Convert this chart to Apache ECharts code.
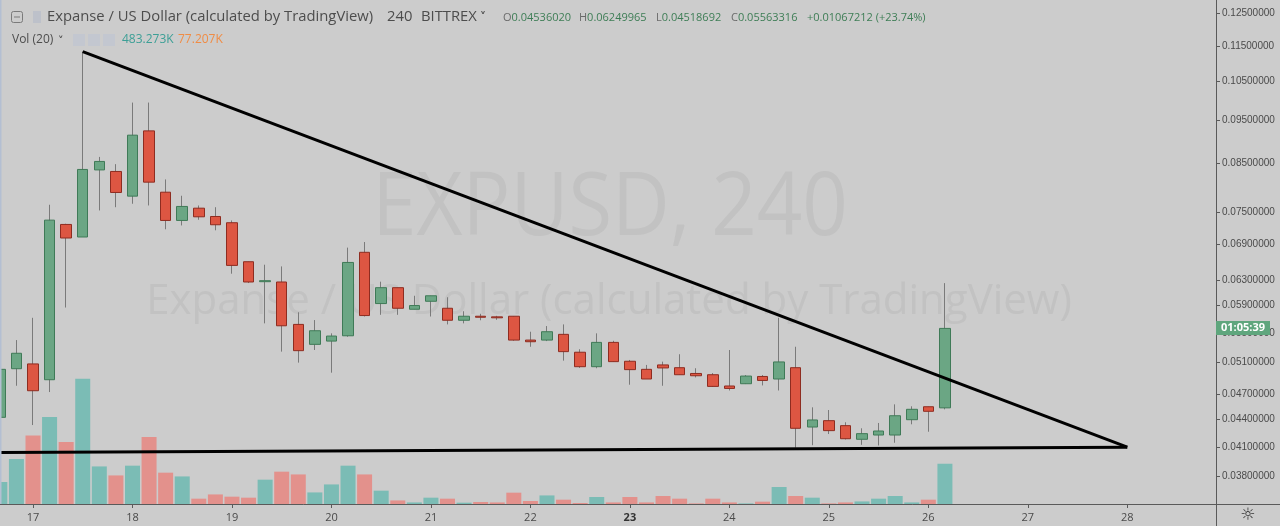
<!DOCTYPE html>
<html><head><meta charset="utf-8">
<script src="https://cdn.jsdelivr.net/npm/echarts@6/dist/echarts.min.js"></script>
<style>html,body{margin:0;padding:0;background:#cccccc;}#chart{width:1280px;height:526px;}</style>
</head><body><div id="chart"></div>
<script>
// ---- data (4h candles, EXP/USD Bittrex); first bar sits 2 slots before Day 17 00:00 ----
const firstSlot = -2;
const dayLabels = ['17','18','19','20','21','22','23','24','25','26','27','28'];
const dayTickSlots = [0,6,12,18,24,30,36,42,48,54,60,66];
const priceTicks = [0.125,0.115,0.105,0.095,0.085,0.075,0.069,0.063,0.059,0.055,0.051,0.047,0.044,0.041,0.038];

const openP = [0.04427,0.05016,0.05078,0.04876,0.07267,0.07036,0.0836,0.08327,0.07815,0.09242,
  0.07895,0.07342,0.07577,0.07417,0.07299,0.06603,0.06273,0.06268,0.05621,0.05340,
  0.05385,0.05459,0.06765,0.0593,0.06177,0.05844,0.05965,0.05859,0.05681,0.0574,
  0.05731,0.0574,0.05399,0.05399,0.05479,0.05233,0.05042,0.05367,0.05113,0.05008,
  0.05065,0.05029,0.04955,0.04939,0.04798,0.04826,0.04917,0.04885,0.05029,0.04318,
  0.04389,0.04333,0.04184,0.0423,0.0423,0.044,0.04549,0.04536020];
const closeP = [0.05008,0.05219,0.0474,0.07348,0.07018,0.0837,0.08544,0.07889,0.09141,0.08101,
  0.07342,0.07611,0.07411,0.07261,0.06541,0.06268,0.06289,0.05601,0.05254,0.0553,
  0.05455,0.06591,0.0575,0.06177,0.05859,0.059,0.0605,0.05681,0.0574,0.05725,
  0.05717,0.05399,0.05376,0.05516,0.05241,0.05042,0.05367,0.05108,0.05004,0.04885,
  0.05026,0.04939,0.04926,0.04793,0.04768,0.04922,0.04867,0.05104,0.04304,0.04397,
  0.04278,0.0419,0.04245,0.04274,0.04445,0.04519,0.04496104,0.05563316];
const highP = [0.05065,0.05399,0.05717,0.07644,0.0728,0.1133,0.08644,0.08485,0.09939,0.0994,
  0.08158,0.07823,0.0763,0.07596,0.07342,0.06603,0.06553,0.06524,0.05799,0.05684,
  0.05493,0.06847,0.06946,0.06273,0.06177,0.0605,0.0605,0.06027,0.05814,0.05776,
  0.05746,0.0574,0.05516,0.05597,0.05621,0.05273,0.05493,0.05389,0.0513,0.05065,
  0.05108,0.05206,0.05022,0.0496,0.05263,0.04935,0.04935,0.05717,0.05307,0.04542,
  0.04511,0.04371,0.04304,0.04363,0.04577,0.04554,0.04549,0.06249965];
const lowP = [0.04385,0.04801,0.0434,0.04724,0.0587,0.07036,0.07533,0.07596,0.07664,0.0763,
  0.07177,0.07248,0.07355,0.07158,0.06403,0.06251,0.05636,0.05241,0.05095,0.05263,
  0.04965,0.05445,0.05736,0.05761,0.05761,0.05844,0.05736,0.05621,0.05636,0.05681,
  0.05687,0.05389,0.05307,0.05385,0.05121,0.05026,0.05022,0.05104,0.04814,0.04885,
  0.04801,0.04939,0.04905,0.04786,0.04743,0.04822,0.04805,0.04743,0.04094,0.04121,
  0.04241,0.04182,0.04125,0.04118,0.04147,0.04348,0.04266,0.04518692];
const volumeK = [264,540,823,1044,744,1504,451,343,460,804,
  376,331,64,115,88,76,292,388,355,139,
  235,460,355,160,43,19,76,64,16,24,
  19,136,36,103,52,12,84,19,84,19,
  96,64,7,64,19,7,28,204,96,76,
  7,19,31,64,96,19,52,483.273];

const upperTrend = [[3,0.1133],[66,0.0410]];
const lowerTrend = [[-2,0.04045],[66,0.0410]];
const priceMin = 0.03543, priceMax = 0.12937;
const slotMin = -1.99, slotMax = 71.35;
const volumeMaxK = 6048;

// header legend texts
const legendOHLC = [['O','0.04536020',503],['H','0.06249965',579],['L','0.04518692',656],['C','0.05563316',731]];
const legendChange = '+0.01067212 (+23.74%)';

// ---- styles ----
const UP_FILL = '#6ba684', UP_LINE = '#3f7a57';
const DN_FILL = '#dd5642', DN_LINE = '#8e2c20';
const WICK = '#7a7a7a';
const VOL_UP = '#7bbcb5', VOL_DN = '#e3918c';
const L = Math.log;

const chart = echarts.init(document.getElementById('chart'), null, {renderer:'canvas'});
const xs = openP.map((_, i) => i + firstSlot);

const wickData = xs.map((x,i) => [x, L(openP[i]), L(closeP[i]), L(lowP[i]), L(highP[i])]);
const bodyData = xs.map((x,i) => [x, L(openP[i]), L(closeP[i]),
  L(Math.min(openP[i],closeP[i])), L(Math.max(openP[i],closeP[i]))]);
const volData = xs.map((x,i) => ({value:[x, volumeK[i]],
  itemStyle:{color: closeP[i] >= openP[i] ? VOL_UP : VOL_DN}}));

const font = "'Open Sans', sans-serif";
const legendEls = [];
legendOHLC.forEach(([k,v,x]) => {
  legendEls.push({type:'text',z:50,style:{x:x,y:18,textVerticalAlign:'middle',
    text:'{l|'+k+'}{v|'+v+'}',
    rich:{l:{fontSize:11,fontFamily:font,fill:'#6a6a6a'},v:{fontSize:11,fontFamily:font,fill:'#3d7d55'}}}});
});
legendEls.push({type:'text',z:50,style:{x:807,y:18,textVerticalAlign:'middle',text:legendChange,
  font:"11px 'Open Sans'",fill:'#3d7d55'}});

const option = {
  animation:false,
  backgroundColor:'#cccccc',
  grid:{left:0,right:64,top:0,bottom:22,containLabel:false},
  xAxis:{type:'value',min:slotMin,max:slotMax,
    axisLine:{show:true,onZero:false,lineStyle:{color:'#5a5a5a',width:1}},
    axisTick:{show:true,customValues:dayTickSlots,length:4,lineStyle:{color:'#5a5a5a'}},
    axisLabel:{customValues:dayTickSlots,color:'#4a4a4a',fontSize:11,margin:8,fontFamily:font,
      formatter:v=>{const t=dayLabels[dayTickSlots.indexOf(v)];return t==='23'?'{b|'+t+'}':t;},
      rich:{b:{fontWeight:'bold',fontSize:11,color:'#333',fontFamily:font}}},
    splitLine:{show:false}},
  yAxis:[{type:'value',position:'right',min:L(priceMin),max:L(priceMax),
    axisLine:{show:true,onZero:false,lineStyle:{color:'#5a5a5a',width:1}},
    axisTick:{show:true,customValues:priceTicks.map(L),length:4,lineStyle:{color:'#5a5a5a'}},
    axisLabel:{customValues:priceTicks.map(L),formatter:v=>Math.exp(v).toFixed(8),
      color:'#4a4a4a',fontSize:10,margin:6,fontFamily:'Liberation Sans'},
    splitLine:{show:false}},
    {type:'value',min:0,max:volumeMaxK,show:false,axisLine:{onZero:false}}],
  series:[
    {type:'bar',yAxisIndex:1,data:volData,barWidth:15,silent:true,z:1},
    {type:'candlestick',encode:{x:0,y:[1,2,3,4]},data:wickData,barWidth:1,silent:true,z:2,
      itemStyle:{color:WICK,color0:WICK,borderColor:WICK,borderColor0:WICK,borderWidth:1}},
    {type:'candlestick',encode:{x:0,y:[1,2,3,4]},data:bodyData,barWidth:11,silent:true,z:3,
      itemStyle:{color:UP_FILL,color0:DN_FILL,borderColor:UP_LINE,borderColor0:DN_LINE,borderWidth:1}},
    {type:'line',data:upperTrend.map(p=>[p[0],L(p[1])]),symbol:'none',silent:true,z:5,
      lineStyle:{color:'#000',width:3}},
    {type:'line',data:lowerTrend.map(p=>[p[0],L(p[1])]),symbol:'none',silent:true,z:5,
      lineStyle:{color:'#000',width:3}}
  ],
  graphic:[
    {type:'text',z:-1,x:610,y:210,scaleX:0.915,style:{text:'EXPUSD, 240',x:0,y:0,font:"87px 'Open Sans'",fill:'#c2c2c2',textAlign:'center',textVerticalAlign:'middle'}},
    {type:'text',z:-1,style:{text:'Expanse / US Dollar (calculated by TradingView)',x:609,y:302,font:"42px 'Open Sans'",fill:'#c2c2c2',textAlign:'center',textVerticalAlign:'middle'}},
    {type:'rect',z:50,shape:{x:0,y:0,width:1.5,height:504},style:{fill:'#b4bfd2'}},
    {type:'line',z:50,shape:{x1:1216,y1:504.5,x2:1280,y2:504.5},style:{stroke:'#5a5a5a',lineWidth:1}},
    {type:'line',z:50,shape:{x1:1216.5,y1:504,x2:1216.5,y2:526},style:{stroke:'#5a5a5a',lineWidth:1}},
    // header
    {type:'rect',z:50,shape:{x:11.5,y:11.5,width:11,height:11,r:2},style:{fill:'none',stroke:'#7a7a7a',lineWidth:1}},
    {type:'line',z:50,shape:{x1:14,y1:17,x2:20,y2:17},style:{stroke:'#7a7a7a',lineWidth:1}},
    {type:'rect',z:50,shape:{x:33,y:11,width:8,height:12},style:{fill:'#bdc1ca'}},
    {type:'text',z:50,style:{text:'Expanse / US Dollar (calculated by TradingView)',x:47,y:17,font:"14.8px 'Open Sans'",fill:'#4d4d4d',textVerticalAlign:'middle'}},
    {type:'text',z:50,style:{text:'240',x:387,y:17,font:"14.8px 'Open Sans'",fill:'#4d4d4d',textVerticalAlign:'middle'}},
    {type:'text',z:50,style:{text:'BITTREX',x:421,y:17,font:"14.8px 'Open Sans'",fill:'#4d4d4d',textVerticalAlign:'middle'}},
    {type:'text',z:50,style:{text:'˅',x:480,y:18,font:"bold 12px 'DejaVu Sans'",fill:'#4d4d4d',textVerticalAlign:'middle'}},
    ...legendEls,
    {type:'text',z:50,style:{text:'Vol (20)',x:12,y:40,font:"12px 'Open Sans'",fill:'#4d4d4d',textVerticalAlign:'middle'}},
    {type:'text',z:50,style:{text:'˅',x:58,y:41,font:"bold 11px 'DejaVu Sans'",fill:'#4d4d4d',textVerticalAlign:'middle'}},
    {type:'rect',z:50,shape:{x:73,y:34,width:12,height:12},style:{fill:'#c3c7d0'}},
    {type:'rect',z:50,shape:{x:88,y:34,width:12,height:12},style:{fill:'#c3c7d0'}},
    {type:'rect',z:50,shape:{x:103,y:34,width:12,height:12},style:{fill:'#c3c7d0'}},
    {type:'text',z:50,style:{text:'483.273K',x:122,y:40,font:"12px 'Open Sans'",fill:'#3c9f96',textVerticalAlign:'middle'}},
    {type:'text',z:50,style:{text:'77.207K',x:178,y:40,font:"12px 'Open Sans'",fill:'#f08c45',textVerticalAlign:'middle'}},
    // countdown label
    {type:'rect',z:60,shape:{x:1216,y:321,width:54,height:14},style:{fill:'#5fa67d'}},
    {type:'text',z:61,style:{text:'01:05:39',x:1243,y:328,font:"bold 11px 'Open Sans'",fill:'#ffffff',textAlign:'center',textVerticalAlign:'middle'}},
    {type:'text',z:50,style:{text:'☼',x:1248,y:516,font:"17px 'DejaVu Sans'",fill:'#333',textAlign:'center',textVerticalAlign:'middle'}}
  ]
};
chart.setOption(option);
</script></body></html>
